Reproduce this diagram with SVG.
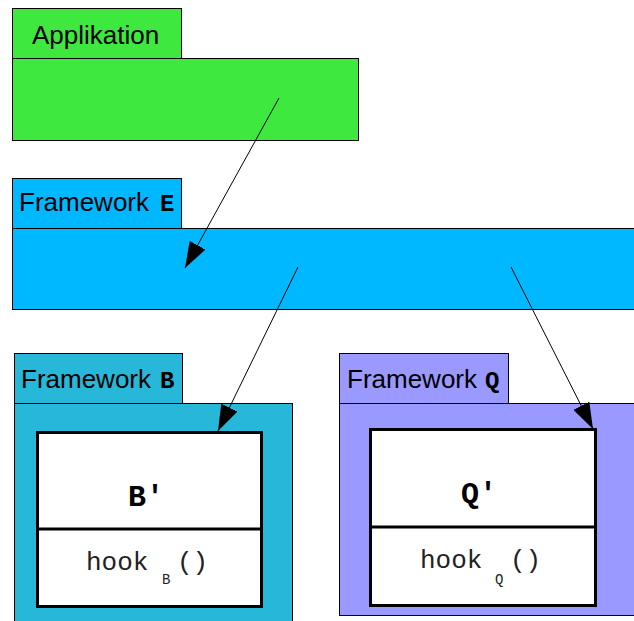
<svg xmlns="http://www.w3.org/2000/svg" width="634" height="621" viewBox="0 0 634 621">
  <style>
    .frame { stroke: #000; stroke-width: 1; }
    .box { fill: #fff; stroke: #000; stroke-width: 3; }
    .label { font-family: "Liberation Sans", Arial, sans-serif; font-size: 26px; fill: #000; }
    .mono { font-family: "Liberation Mono", "Courier New", monospace; }
    .tag { font-weight: bold; font-size: 24px; }
    .cls { font-weight: bold; font-size: 30px; text-anchor: middle; }
    .op { font-size: 26px; fill: #222; }
    .sub { font-size: 14px; fill: #222; }
    .conn { stroke: #000; stroke-width: 1; fill: none; marker-end: url(#head); }
  </style>
  <defs>
    <marker id="head" markerUnits="userSpaceOnUse" markerWidth="26" markerHeight="18" refX="26" refY="9" orient="auto">
      <path d="M0,0 L26,9 L0,18 Z" fill="#000"/>
    </marker>
  </defs>
  <rect width="634" height="621" fill="#fff"/>

  <g id="applikation">
    <rect class="frame" x="12.5" y="8.5" width="169" height="50" fill="#3ee83e"/>
    <rect class="frame" x="12.5" y="58.5" width="346" height="82" fill="#3ee83e"/>
    <text class="label" x="32" y="44">Applikation</text>
  </g>

  <g id="framework-e">
    <rect class="frame" x="12.5" y="178.5" width="169" height="50" fill="#00b8ff"/>
    <rect class="frame" x="12.5" y="228.5" width="624" height="81" fill="#00b8ff"/>
    <text class="label" x="19" y="211">Framework<tspan class="mono tag" x="160">E</tspan></text>
  </g>

  <g id="framework-b">
    <rect class="frame" x="14.5" y="353.5" width="168" height="50" fill="#26b7d9"/>
    <rect class="frame" x="14.5" y="403.5" width="278" height="222" fill="#26b7d9"/>
    <text class="label" x="21" y="388">Framework<tspan class="mono tag" x="160">B</tspan></text>
    <rect class="box" x="37.5" y="432.5" width="224" height="174"/>
    <line x1="37.5" y1="529" x2="261.5" y2="529" stroke="#000" stroke-width="3"/>
    <text class="mono cls" x="146" y="506">B'</text>
    <text class="mono op" x="86" y="570">hook</text>
    <text class="mono sub" x="162" y="584">B</text>
    <text class="mono op" x="177" y="570">()</text>
  </g>

  <g id="framework-q">
    <rect class="frame" x="339.5" y="353.5" width="169" height="50" fill="#9999ff"/>
    <rect class="frame" x="339.5" y="403.5" width="297" height="212" fill="#9999ff"/>
    <text class="label" x="347" y="388">Framework<tspan class="mono tag" x="485">Q</tspan></text>
    <rect class="box" x="370.5" y="429.5" width="225" height="176"/>
    <line x1="370.5" y1="527" x2="595.5" y2="527" stroke="#000" stroke-width="3"/>
    <text class="mono cls" x="479" y="503">Q'</text>
    <text class="mono op" x="420" y="568">hook</text>
    <text class="mono sub" x="495" y="584">Q</text>
    <text class="mono op" x="510" y="568">()</text>
  </g>

  <g id="connectors">
    <line class="conn" x1="279" y1="98" x2="185" y2="268"/>
    <line class="conn" x1="298" y1="267" x2="218" y2="431"/>
    <line class="conn" x1="511" y1="267" x2="593" y2="429"/>
  </g>
</svg>
